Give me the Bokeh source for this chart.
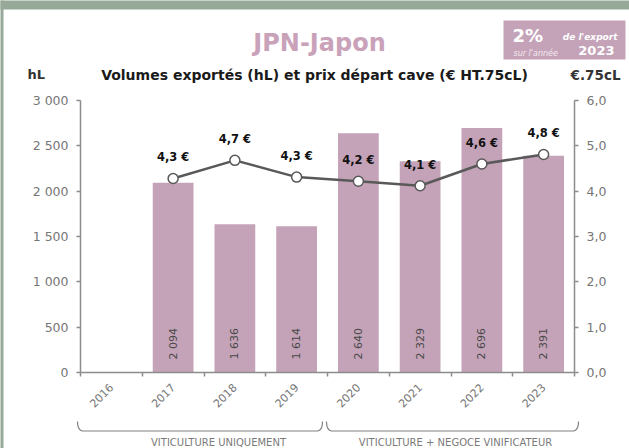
import numpy as np
from bokeh.plotting import figure
from bokeh.models import Range1d, LinearAxis, FixedTicker, ColumnDataSource
from bokeh.embed import file_html
from bokeh.resources import INLINE
from bokeh.core.properties import value

# ---------------- data ----------------
years = ["2016", "2017", "2018", "2019", "2020", "2021", "2022", "2023"]
volumes = [np.nan, 2094, 1636, 1614, 2640, 2329, 2696, 2391]
prices = [np.nan, 4.28, 4.68, 4.31, 4.22, 4.12, 4.60, 4.81]

volume_ticks = [0, 500, 1000, 1500, 2000, 2500, 3000]
volume_tick_labels = ["0", "500", "1 000", "1 500", "2 000", "2 500", "3 000"]
price_ticks = [0, 1, 2, 3, 4, 5, 6]
price_tick_labels = ["0,0", "1,0", "2,0", "3,0", "4,0", "5,0", "6,0"]

group_names = ["VITICULTURE UNIQUEMENT", "VITICULTURE + NEGOCE VINIFICATEUR"]

title_text = "JPN-Japon"
subtitle_text = "Volumes exportés (hL) et prix départ cave (€ HT.75cL)"
left_unit = "hL"
right_unit = "€.75cL"
share_text = "2%"
share_year = "2023"

# ---------------- style ----------------
FONT = "DejaVu Sans"
PINK = "#c4a3b8"
TITLE_PINK = "#c9a2ba"
LINE_GREY = "#595959"
AXIS_GREY = "#8c8c8c"
LABEL_GREY = "#767676"
FRAME_GREEN = "#97a999"

W, H = 629, 448
FL, FR, FT, FB = 80, 55, 100, 76
N = len(years)
YMAX = 3000
PPU = (W - FL - FR) / N
PPY = (H - FT - FB) / YMAX


def X(px):
    """canvas pixel -> data x"""
    return (px - FL) / PPU


def Y(py):
    """canvas pixel (from top) -> data y"""
    return (H - FB - py) / PPY


centers = [i + 0.5 for i in range(N)]

p = figure(width=W, height=H, x_range=Range1d(0, N), y_range=Range1d(0, YMAX),
           toolbar_location=None, output_backend="svg",
           min_border_left=FL, min_border_right=FR, min_border_top=FT, min_border_bottom=FB)
p.extra_y_ranges = {"price": Range1d(0, 6)}
p.grid.visible = False
p.outline_line_color = None

src = ColumnDataSource(dict(
    x=centers,
    vol=volumes,
    price=prices,
    vol_label=["" if np.isnan(v) else f"{int(v):,}".replace(",", " ") for v in volumes],
    price_label=["" if np.isnan(v) else f"{v:.1f} €".replace(".", ",") for v in prices],
))

p.vbar(x="x", top="vol", width=0.66, source=src, fill_color=PINK, line_color=None)
p.text(x="x", y=0, text="vol_label", source=src, angle=np.pi / 2, y_offset=-13,
       text_font=value(FONT), text_font_size="11px", text_color="#4a4a4a",
       text_align="left", text_baseline="middle")

p.line(x="x", y="price", source=src, y_range_name="price", line_color=LINE_GREY, line_width=2.5)
p.scatter(x="x", y="price", source=src, y_range_name="price", size=10, fill_color="white",
          line_color=LINE_GREY, line_width=1.5)
p.text(x="x", y="price", text="price_label", source=src, y_range_name="price", y_offset=-21,
       text_font=value(FONT), text_font_style="bold", text_font_size="11.5px", text_color="#111111",
       text_align="center", text_baseline="middle")

# axes
ya = p.yaxis[0]
ya.ticker = FixedTicker(ticks=volume_ticks)
ya.major_label_overrides = dict(zip(volume_ticks, volume_tick_labels))

ra = LinearAxis(y_range_name="price")
ra.ticker = FixedTicker(ticks=price_ticks)
ra.major_label_overrides = dict(zip(price_ticks, price_tick_labels))
p.add_layout(ra, "right")

xa = p.xaxis[0]
xa.ticker = FixedTicker(ticks=centers, minor_ticks=list(range(N + 1)))
xa.major_label_overrides = dict(zip(centers, years))
xa.major_label_orientation = np.pi / 4
xa.major_tick_line_color = None
xa.minor_tick_out = 4
xa.minor_tick_in = 0
xa.minor_tick_line_color = AXIS_GREY
xa.minor_tick_line_width = 1.5
xa.major_label_standoff = 7

for ax in (ya, ra, xa):
    ax.axis_line_color = AXIS_GREY
    ax.axis_line_width = 1.5
    ax.major_label_text_font = FONT
    ax.major_label_text_color = LABEL_GREY
for ax in (ya, ra):
    ax.major_tick_out = 4
    ax.major_tick_in = 0
    ax.major_tick_line_color = AXIS_GREY
    ax.major_tick_line_width = 1.5
    ax.minor_tick_line_color = None
    ax.major_label_text_font_size = "12.5px"
    ax.major_label_standoff = 8
xa.major_label_text_font_size = "11px"


# ---------------- decorations outside the frame (overlay level, not clipped) ----------------
def add_text(px, py, text, size, color, style="normal", align="left"):
    p.text(x=[X(px)], y=[Y(py)], text=[text], text_font=value(FONT), text_font_size=size,
           text_font_style=style, text_color=color, text_align=align,
           text_baseline="middle", level="overlay")


def add_box(px0, px1, py0, py1, color):
    p.quad(left=[X(px0)], right=[X(px1)], top=[Y(py0)], bottom=[Y(py1)],
           fill_color=color, line_color=None, level="overlay")


# green card edge (top and left)
add_box(0, W, 0, 9, FRAME_GREEN)
add_box(0, 3, 0, H, FRAME_GREEN)

add_text(319, 42, title_text, "24px", TITLE_PINK, "bold", "center")
add_text(314, 74, subtitle_text, "14px", "#1a1a1a", "bold", "center")
add_text(27, 74, left_unit, "13px", "#333333", "bold", "left")
add_text(620, 74, right_unit, "13.5px", "#333333", "bold", "right")

add_box(503, 625, 20, 59, PINK)
add_text(512, 35, share_text, "18px", "white", "bold", "left")
add_text(617, 36, "de l'export", "9px", "white", "bold italic", "right")
add_text(513, 53, "sur l'année", "8px", "#f4e8ef", "italic", "left")
add_text(614, 50, share_year, "13px", "white", "bold", "right")


def bracket(x0, x1, tip, base, r=6, n=8):
    t = np.linspace(0, 1, n)
    lx = (1 - t) ** 2 * x0 + 2 * (1 - t) * t * x0 + t ** 2 * (x0 + r)
    ly = (1 - t) ** 2 * tip + 2 * (1 - t) * t * base + t ** 2 * base
    rx = (1 - t) ** 2 * (x1 - r) + 2 * (1 - t) * t * x1 + t ** 2 * x1
    ry = (1 - t) ** 2 * base + 2 * (1 - t) * t * base + t ** 2 * tip
    xs = np.concatenate([lx, rx])
    ys = np.concatenate([ly, ry])
    return [X(v) for v in xs], [Y(v) for v in ys]


bracket_px = [(77, 322), (326, 578)]
label_px = [218, 455]
for (x0, x1), name, lx in zip(bracket_px, group_names, label_px):
    bxs, bys = bracket(x0, x1, 421, 430.5)
    p.line(x=bxs, y=bys, line_color="#808080", line_width=1.2, level="overlay")
    add_text(lx, 441.5, name, "10px", "#7a7a7a", "normal", "center")

open("out.html", "w").write(file_html(p, INLINE))
